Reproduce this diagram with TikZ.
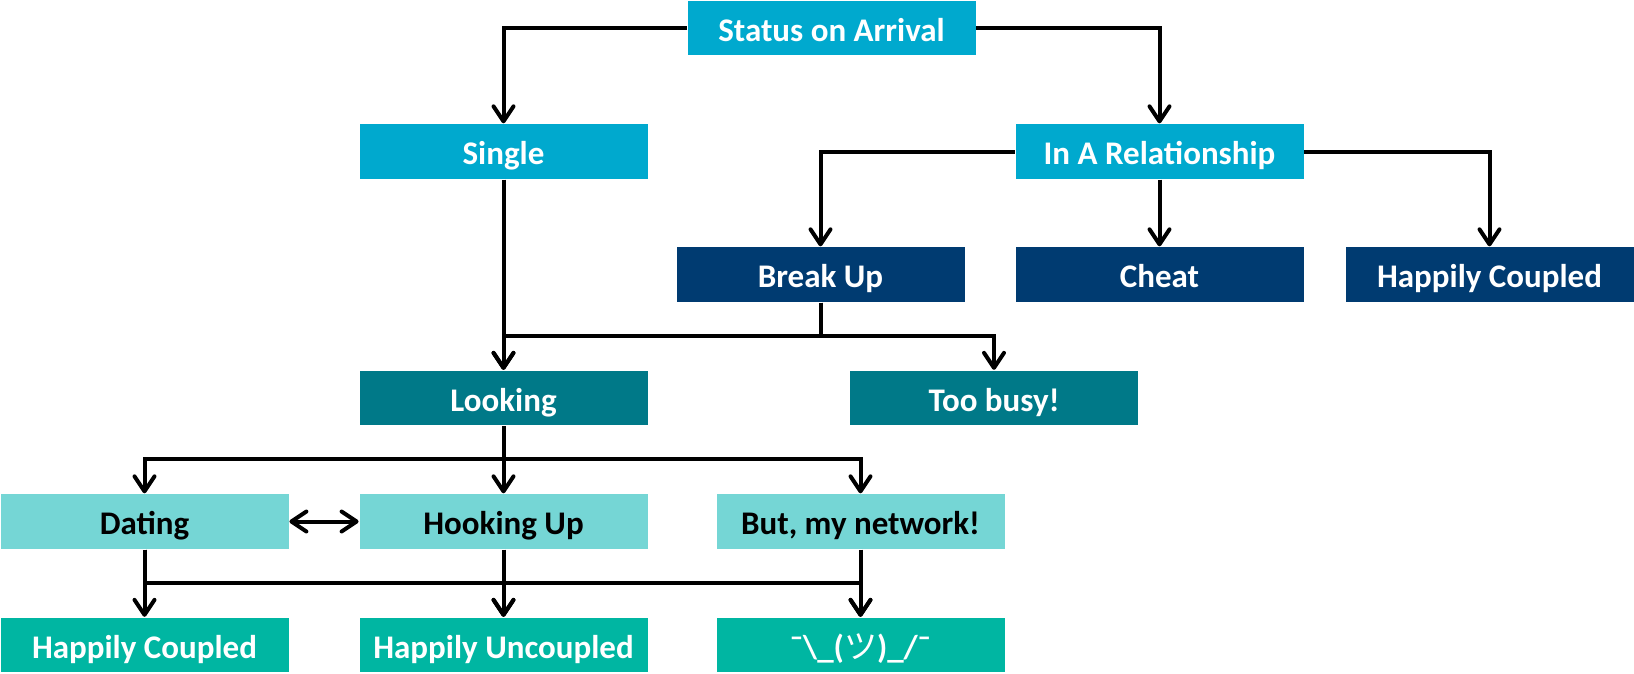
\documentclass[tikz,border=0pt]{standalone}
\usepackage{fontspec}
\setmainfont{Carlito}
\newfontfamily\cjk{Noto Sans CJK JP}
\usetikzlibrary{arrows.meta}
\definecolor{cblue}{RGB}{0,169,206}
\definecolor{cnavy}{RGB}{0,59,113}
\definecolor{cteal}{RGB}{0,121,136}
\definecolor{clight}{RGB}{117,214,213}
\definecolor{cgreen}{RGB}{0,182,162}
\tikzset{
  box/.style={rectangle, fill=#1, draw=white, line width=0.8pt, minimum width=289pt, minimum height=55.5pt, inner sep=0pt,
    text height=29pt, text depth=3pt,
    font=\fontsize{33pt}{36pt}\selectfont\bfseries, text=white},
  darktext/.style={text=black},
  tipstyle/.tip={Straight Barb[length=15pt,width=20pt,line width=4pt,round]},
  arr/.style={line width=4pt, -tipstyle},
  arrboth/.style={line width=4pt, tipstyle-tipstyle},
}
\begin{document}
\begin{tikzpicture}[x=1pt,y=-1pt]
\useasboundingbox (0,0) rectangle (1634,673);
% nodes
\node[box=cblue] (status) at (831.5,28) {Status on Arrival};
\node[box=cblue] (single) at (503.5,151.5) {Single};
\node[box=cblue] (inrel) at (1159.5,151.5) {In A Relationship};
\node[box=cnavy] (breakup) at (820.5,274.5) {Break Up};
\node[box=cnavy] (cheat) at (1159.5,274.5) {Cheat};
\node[box=cnavy] (hctop) at (1489.5,274.5) {Happily Coupled};
\node[box=cteal] (looking) at (503.5,398) {Looking};
\node[box=cteal] (toobusy) at (994,398) {Too busy!};
\node[box=clight,darktext] (dating) at (144.5,521.5) {Dating};
\node[box=clight,darktext] (hooking) at (503.5,521.5) {Hooking Up};
\node[box=clight,darktext] (network) at (860.5,521.5) {But, my network!};
\node[box=cgreen] (hcbot) at (144.5,645) {Happily Coupled};
\node[box=cgreen] (huncoupled) at (503.5,645) {Happily Uncoupled};
\node[box=cgreen] (shrug) at (860.5,645) {¯\textbackslash\_({\cjk\mdseries ツ})\_/¯};
% bus coordinates
\coordinate (busA) at (0,336);
\coordinate (busB) at (0,459);
\coordinate (busC) at (0,583);
% connectors
\draw[arr] (status.west) -| (single.north);
\draw[arr] (status.east) -| (inrel.north);
\draw[arr] (inrel.west) -| (breakup.north);
\draw[arr] (inrel.south) -- (cheat.north);
\draw[arr] (inrel.east) -| (hctop.north);
\draw[arr] (single.south) -- (looking.north);
\draw[arr] (breakup.south) -- (breakup.south |- busA) -| (looking.north);
\draw[arr] (breakup.south) -- (breakup.south |- busA) -| (toobusy.north);
\draw[arr] (looking.south) -- (looking.south |- busB) -| (dating.north);
\draw[arr] (looking.south) -- (hooking.north);
\draw[arr] (looking.south) -- (looking.south |- busB) -| (network.north);
\draw[arrboth] (dating.east) -- (hooking.west);
\draw[arr] (dating.south) -- (hcbot.north);
\draw[arr] (dating.south) -- (dating.south |- busC) -| (huncoupled.north);
\draw[arr] (dating.south) -- (dating.south |- busC) -| (shrug.north);
\draw[arr] (hooking.south) -- (huncoupled.north);
\draw[arr] (network.south) -- (shrug.north);
\end{tikzpicture}
\end{document}
